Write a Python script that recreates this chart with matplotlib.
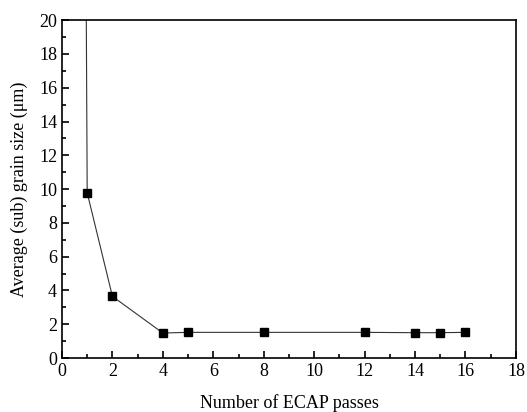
import numpy as np
from matplotlib import pyplot as plt

plt.rcParams['font.family'] = ['Liberation Serif', 'DejaVu Serif']

passes = [0, 1, 2, 4, 5, 8, 12, 14, 15, 16]
grain_size = [300, 9.78, 3.65, 1.48, 1.52, 1.52, 1.52, 1.5, 1.5, 1.52]

fig = plt.figure(figsize=(5.27, 4.12), dpi=100)
ax = fig.add_axes([0.1176, 0.131, 0.8614, 0.820])

ax.plot(passes, grain_size, '-s', color='k', mfc='k', lw=0.8, markersize=5.5)
ax.lines[0].set_color('#333333')
ax.lines[0].set_markerfacecolor('k')
ax.lines[0].set_markeredgecolor('k')

ax.set_xlim(0, 18)
ax.set_ylim(0, 20)
ax.set_xticks(np.arange(0, 19, 2))
ax.set_xticks(np.arange(0, 19, 1), minor=True)
ax.set_yticks(np.arange(0, 21, 2))
ax.set_yticks(np.arange(0, 21, 1), minor=True)
ax.tick_params(which='both', direction='in', labelsize=13, width=1.2)
ax.tick_params(which='major', length=5)
ax.tick_params(which='minor', length=3)
for s in ax.spines.values():
    s.set_linewidth(1.2)

ax.set_xlabel('Number of ECAP passes', fontsize=13, labelpad=10)
ax.set_ylabel('Average (sub) grain size (\u03bcm)', fontsize=13, labelpad=8)

fig.savefig('out.png', dpi=100)
